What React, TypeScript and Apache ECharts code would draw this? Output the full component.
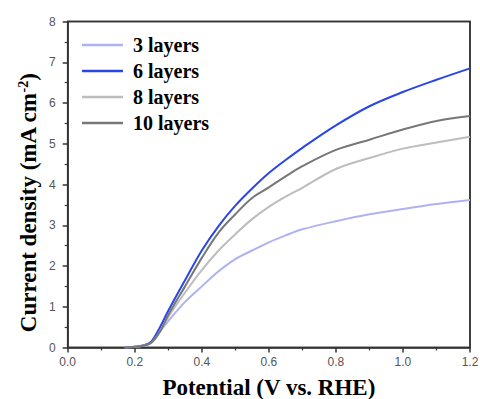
import React, { useEffect, useRef } from "react";
import * as echarts from "echarts";

const potentials = [0.17, 0.2, 0.23, 0.25, 0.276, 0.3, 0.35, 0.4, 0.45, 0.5, 0.55, 0.6, 0.65, 0.7, 0.8, 0.9, 1.0, 1.1, 1.2];
const layers3 = [0, 0.02, 0.05, 0.12, 0.4, 0.65, 1.12, 1.5, 1.87, 2.17, 2.38, 2.58, 2.75, 2.9, 3.1, 3.27, 3.4, 3.52, 3.62];
const layers6 = [0, 0.02, 0.06, 0.15, 0.51, 0.9, 1.65, 2.38, 2.98, 3.48, 3.9, 4.28, 4.6, 4.9, 5.45, 5.92, 6.27, 6.57, 6.85];
const layers8 = [0, 0.02, 0.05, 0.12, 0.4, 0.75, 1.35, 1.9, 2.38, 2.78, 3.15, 3.45, 3.7, 3.92, 4.38, 4.65, 4.88, 5.03, 5.17];
const layers10 = [0, 0.02, 0.05, 0.12, 0.4, 0.8, 1.5, 2.2, 2.82, 3.27, 3.67, 3.93, 4.2, 4.45, 4.85, 5.1, 5.35, 5.56, 5.68];

const seriesNames = ["3 layers", "6 layers", "8 layers", "10 layers"];
const seriesValues = [layers3, layers6, layers8, layers10];
const lineColors = ["#aeb2f0", "#2a46e6", "#bdbdbd", "#777777"];

const xTicks = { min: 0, max: 1.2, interval: 0.2 };
const yTicks = { min: 0, max: 8, interval: 1 };

const GRID = { left: 67.7, right: 10, top: 21.5, bottom: 51.5 };
const W = 480;
const H = 399;
const FRAME = "#333333";

export default function App() {
  const ref = useRef<HTMLDivElement>(null);
  useEffect(() => {
    if (!ref.current) return;
    const chart = echarts.init(ref.current, undefined, { renderer: "svg" });
    const serif = "'Liberation Serif', 'Times New Roman', serif";
    const sans = "'Liberation Sans', Arial, sans-serif";
    chart.setOption({
      animation: false,
      grid: {
        ...GRID,
        outerBoundsMode: "none",
        show: true,
        borderColor: FRAME,
        borderWidth: 1.5,
      },
      legend: {
        orient: "vertical",
        left: 82,
        top: 35,
        padding: 0,
        itemWidth: 41,
        itemHeight: 2.5,
        itemGap: 6,
        textStyle: { fontFamily: serif, fontWeight: "bold", fontSize: 20, lineHeight: 20, color: "#000", padding: [0, 0, 0, 5] },
        data: seriesNames.map((n) => ({ name: n, icon: "rect" })),
      },
      xAxis: {
        type: "value",
        min: xTicks.min,
        max: xTicks.max,
        interval: xTicks.interval,
        name: "Potential (V vs. RHE)",
        nameLocation: "middle",
        nameGap: 28,
        nameTextStyle: { fontFamily: serif, fontWeight: "bold", fontSize: 23, color: "#000" },
        axisLine: { show: true, lineStyle: { color: FRAME, width: 1.5 } },
        splitLine: { show: false },
        axisTick: { show: true, length: 5, lineStyle: { color: FRAME, width: 1.5 } },
        minorTick: { show: true, splitNumber: 2, length: 3, lineStyle: { color: FRAME, width: 1.2 } },
        axisLabel: {
          margin: 8,
          fontFamily: sans,
          fontSize: 12,
          color: "#555",
          formatter: (v: number) => v.toFixed(1),
        },
      },
      yAxis: {
        type: "value",
        min: yTicks.min,
        max: yTicks.max,
        interval: yTicks.interval,
        axisLine: { show: true, lineStyle: { color: FRAME, width: 1.5 } },
        splitLine: { show: false },
        axisTick: { show: true, length: 5, lineStyle: { color: FRAME, width: 1.5 } },
        minorTick: { show: true, splitNumber: 2, length: 3, lineStyle: { color: FRAME, width: 1.2 } },
        axisLabel: { margin: 12, fontFamily: sans, fontSize: 12, color: "#555" },
      },
      graphic: [
        {
          type: "rect",
          shape: {
            x: GRID.left,
            y: GRID.top,
            width: W - GRID.left - GRID.right,
            height: H - GRID.top - GRID.bottom,
          },
          style: { fill: "rgba(255,255,255,0)", stroke: FRAME, lineWidth: 1.5 },
          silent: true,
        },
        {
          type: "text",
          x: 28,
          y: 203,
          rotation: Math.PI / 2,
          style: {
            text: "{t|Current density (mA cm}{s|-2}{t|)}",
            align: "center",
            verticalAlign: "middle",
            rich: {
              t: { fontFamily: serif, fontWeight: "bold", fontSize: 23, fill: "#000" },
              s: { fontFamily: serif, fontWeight: "bold", fontSize: 14, fill: "#000", verticalAlign: "top", padding: [0, 0, 10, 0] },
            },
          },
        },
      ],
      series: seriesNames.map((n, i) => ({
        name: n,
        type: "line",
        symbol: "none",
        smooth: 0.35,
        lineStyle: { color: lineColors[i], width: 2 },
        itemStyle: { color: lineColors[i] },
        data: potentials.map((p, k) => [p, seriesValues[i][k]]),
      })),
    });
    return () => chart.dispose();
  }, []);
  return <div ref={ref} style={{ position: "absolute", left: 0, top: 0, width: W, height: H }} />;
}
